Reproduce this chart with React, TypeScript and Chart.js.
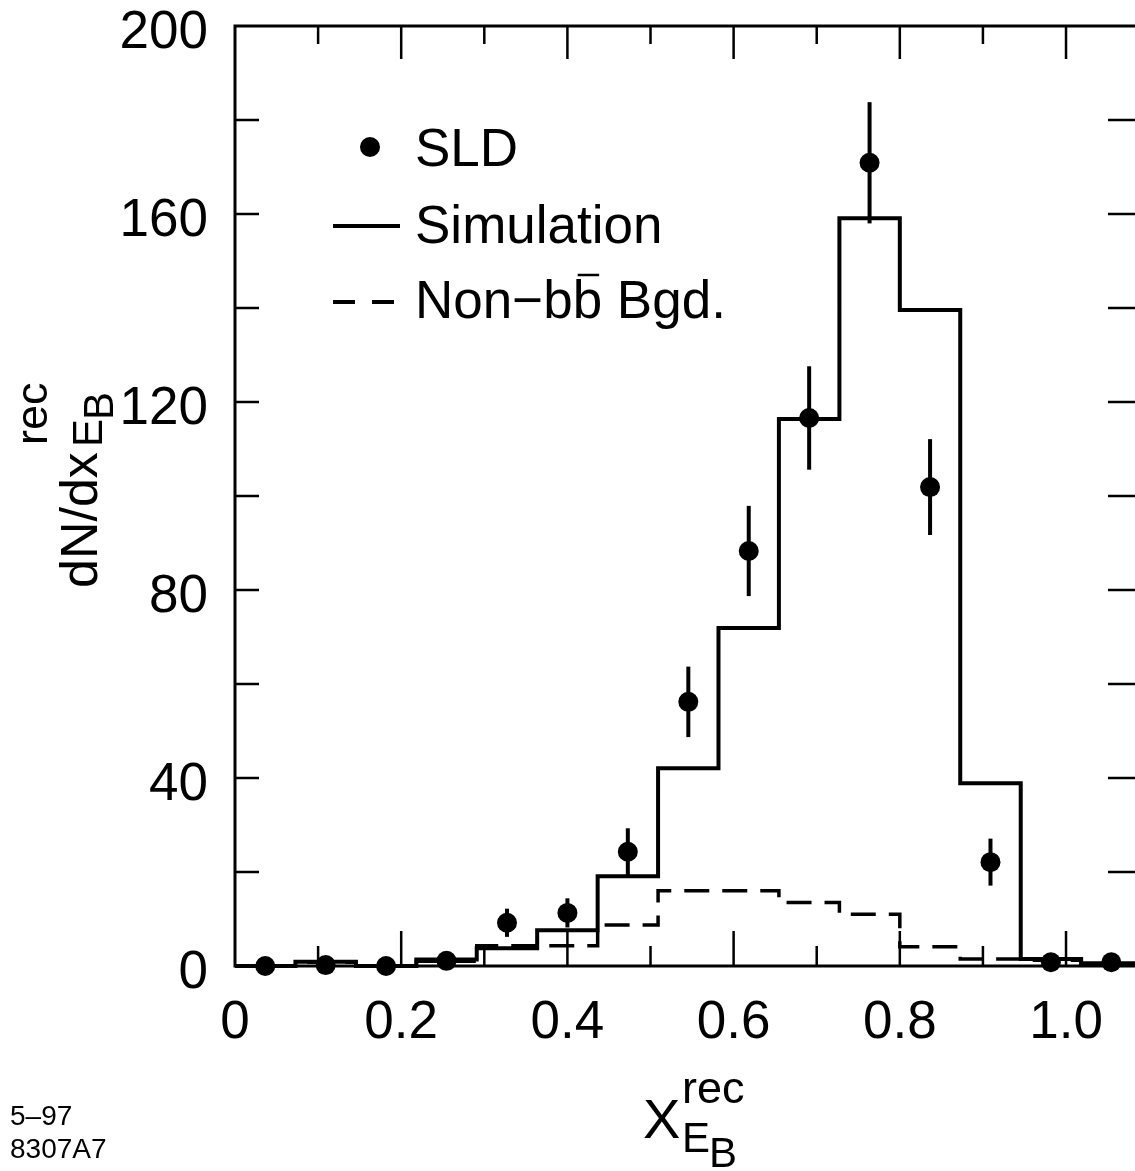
import React, { useEffect, useRef } from "react";
import { Chart, registerables } from "chart.js";

Chart.register(...registerables);

// ---- data ----
const binEdges = [0, 0.0727, 0.1455, 0.2182, 0.2909, 0.3636, 0.4364, 0.5091, 0.5818, 0.6545, 0.7273, 0.8, 0.8727, 0.9455, 1.0182, 1.0909];
const binCenters = [0.0364, 0.1091, 0.1818, 0.2545, 0.3273, 0.4, 0.4727, 0.5455, 0.6182, 0.6909, 0.7636, 0.8364, 0.9091, 0.9818, 1.0545];
const sldValues = [0, 0.2, 0, 1.1, 9.2, 11.3, 24.3, 56.2, 88.3, 116.6, 170.9, 101.9, 22.1, 0.8, 0.8];
const sldErrors = [0, 0, 0, 0, 3.0, 3.1, 5.0, 7.5, 9.6, 11.0, 12.9, 10.2, 5.0, 0, 0];
const simulationValues = [0, 0.9, 0, 1.4, 3.8, 7.6, 19.1, 42.1, 71.9, 116.4, 159.1, 139.6, 38.9, 1.5, 0.6];
const backgroundValues = [0, 0.8, 0, 1.0, 4.3, 4.3, 8.7, 16.0, 16.0, 13.5, 11.0, 4.1, 1.5, 1.2, 0.3];

const xTickValues = [0, 0.2, 0.4, 0.6, 0.8, 1.0];
const xTickLabels = ["0", "0.2", "0.4", "0.6", "0.8", "1.0"];
const xMinorTicks = [0.1, 0.3, 0.5, 0.7, 0.9];
const yTickValues = [0, 40, 80, 120, 160, 200];
const yTickLabels = ["0", "40", "80", "120", "160", "200"];
const ySmallTicks = [20, 40, 60, 80, 100, 120, 140, 160, 180];

const legendLabels = ["SLD", "Simulation", "Non\u2212b", "b", " Bgd."];
const footLines = ["5\u201397", "8307A7"];

const FONT = '"Liberation Sans", Arial, Helvetica, sans-serif';

function histogramPoints(values: number[]) {
  const pts = values.map((v, i) => ({ x: binEdges[i], y: v }));
  pts.push({ x: binEdges[values.length], y: values[values.length - 1] });
  return pts;
}

const decorPlugin = {
  id: "decor",
  afterDatasetsDraw(chart: any) {
    const ctx = chart.ctx as CanvasRenderingContext2D;
    const xs = chart.scales.x;
    const ys = chart.scales.y;
    const a = chart.chartArea;
    ctx.save();
    ctx.strokeStyle = "#000";
    ctx.fillStyle = "#000";

    // error bars
    ctx.lineWidth = 4;
    ctx.lineCap = "butt";
    binCenters.forEach((c, i) => {
      const e = sldErrors[i];
      if (!e) return;
      const px = xs.getPixelForValue(c);
      ctx.beginPath();
      ctx.moveTo(px, ys.getPixelForValue(sldValues[i] + e));
      ctx.lineTo(px, ys.getPixelForValue(sldValues[i] - e));
      ctx.stroke();
    });

    // frame
    ctx.lineWidth = 3;
    ctx.beginPath();
    ctx.moveTo(a.right + 2, a.top);
    ctx.lineTo(a.left, a.top);
    ctx.lineTo(a.left, a.bottom);
    ctx.lineTo(a.right + 2, a.bottom);
    ctx.stroke();

    // x ticks
    ctx.lineWidth = 2.5;
    const drawXTick = (v: number, lenB: number, lenT: number) => {
      const px = xs.getPixelForValue(v);
      ctx.beginPath();
      ctx.moveTo(px, a.bottom);
      ctx.lineTo(px, a.bottom - lenB);
      ctx.moveTo(px, a.top);
      ctx.lineTo(px, a.top + lenT);
      ctx.stroke();
    };
    xMinorTicks.forEach((v) => drawXTick(v, 20, 18));
    xTickValues.slice(1).forEach((v) => drawXTick(v, 35, 33));

    // y ticks
    ySmallTicks.forEach((v) => {
      const py = ys.getPixelForValue(v);
      ctx.beginPath();
      ctx.moveTo(a.left, py);
      ctx.lineTo(a.left + 24, py);
      ctx.moveTo(a.right, py);
      ctx.lineTo(a.right - 27, py);
      ctx.stroke();
    });

    // tick labels
    ctx.font = `53px ${FONT}`;
    ctx.textBaseline = "alphabetic";
    ctx.textAlign = "right";
    yTickValues.forEach((v, i) => {
      ctx.fillText(yTickLabels[i], 208, ys.getPixelForValue(v) + 22);
    });
    ctx.textAlign = "center";
    xTickValues.forEach((v, i) => {
      ctx.fillText(xTickLabels[i], xs.getPixelForValue(v), 1038);
    });

    // legend
    ctx.textAlign = "left";
    ctx.font = `53px ${FONT}`;
    ctx.beginPath();
    ctx.arc(370, 147, 10, 0, Math.PI * 2);
    ctx.fill();
    ctx.fillText(legendLabels[0], 415, 166);

    ctx.lineWidth = 4;
    ctx.beginPath();
    ctx.moveTo(333, 226);
    ctx.lineTo(400, 226);
    ctx.stroke();
    ctx.fillText(legendLabels[1], 415, 243);

    ctx.setLineDash([22, 17]);
    ctx.beginPath();
    ctx.moveTo(333, 302);
    ctx.lineTo(398, 302);
    ctx.stroke();
    ctx.setLineDash([]);
    let tx = 415;
    const by = 318;
    ctx.fillText(legendLabels[2], tx, by);
    tx += ctx.measureText(legendLabels[2]).width;
    const bw = ctx.measureText(legendLabels[3]).width;
    ctx.fillText(legendLabels[3], tx, by);
    ctx.lineWidth = 2.5;
    ctx.beginPath();
    ctx.moveTo(tx + 5, by - 43);
    ctx.lineTo(tx + bw - 3, by - 43);
    ctx.stroke();
    tx += bw;
    ctx.fillText(legendLabels[4], tx, by);

    // x title
    ctx.font = `56px ${FONT}`;
    ctx.fillText("X", 643, 1138);
    ctx.font = `45px ${FONT}`;
    ctx.fillText("rec", 682, 1103);
    ctx.font = `42px ${FONT}`;
    ctx.fillText("E", 682, 1152);
    ctx.fillText("B", 709, 1167);

    // y title (rotated)
    ctx.save();
    ctx.translate(97, 588);
    ctx.rotate(-Math.PI / 2);
    ctx.font = `52px ${FONT}`;
    ctx.fillText("dN/dx", 0, 0);
    ctx.font = `45px ${FONT}`;
    ctx.fillText("rec", 143, -50);
    ctx.font = `42px ${FONT}`;
    ctx.fillText("E", 141, 5);
    ctx.fillText("B", 168, 16);
    ctx.restore();

    // footnote
    ctx.font = `28px ${FONT}`;
    ctx.fillText(footLines[0], 10, 1125);
    ctx.fillText(footLines[1], 10, 1158);

    ctx.restore();
  },
};

export default function App() {
  const ref = useRef<HTMLCanvasElement | null>(null);
  useEffect(() => {
    document.body.style.margin = "0";
    const canvas = ref.current;
    if (!canvas) return;
    const chart = new Chart(canvas, {
      type: "scatter",
      data: {
        datasets: [
          {
            label: "SLD",
            type: "scatter",
            data: binCenters.map((x, i) => ({ x, y: sldValues[i] })),
            backgroundColor: "#000",
            borderColor: "#000",
            pointRadius: 10,
            pointHoverRadius: 10,
            borderWidth: 0,
            clip: false,
            order: 0,
          } as any,
          {
            label: "Simulation",
            type: "line",
            data: histogramPoints(simulationValues),
            borderColor: "#000",
            borderWidth: 4,
            stepped: true,
            pointRadius: 0,
            fill: false,
            clip: false,
            order: 1,
          } as any,
          {
            label: "Non-bb Bgd.",
            type: "line",
            data: histogramPoints(backgroundValues),
            borderColor: "#000",
            borderWidth: 3.5,
            borderDash: [25, 13],
            stepped: true,
            pointRadius: 0,
            fill: false,
            clip: false,
            order: 2,
          } as any,
        ],
      },
      options: {
        responsive: false,
        maintainAspectRatio: false,
        animation: false,
        layout: { autoPadding: false, padding: { left: 235, right: 0, top: 26, bottom: 205 } },
        scales: {
          x: { type: "linear", min: 0, max: 1.083, display: false },
          y: { type: "linear", min: 0, max: 200, display: false },
        },
        plugins: {
          legend: { display: false },
          tooltip: { enabled: false },
        },
      },
      plugins: [decorPlugin],
    });
    return () => chart.destroy();
  }, []);
  return (
    <div style={{ width: 1135, height: 1171, background: "#fff" }}>
      <canvas ref={ref} width={1135} height={1171} style={{ display: "block" }} />
    </div>
  );
}
